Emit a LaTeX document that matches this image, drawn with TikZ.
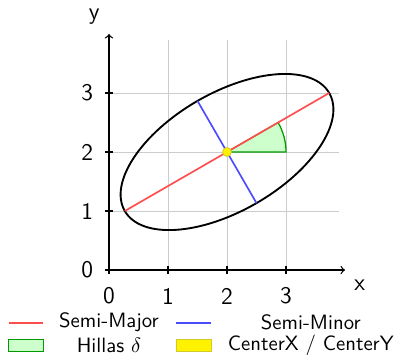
\documentclass[tikz,border=0pt]{standalone}
\usepackage{fontspec}
\usetikzlibrary{calc}
\begin{document}
\begin{tikzpicture}[font=\sffamily,
  gridline/.style={draw=black!20, line width=0.4pt},
  axisline/.style={draw=black, line width=0.6pt, ->},
  ticklab/.style={font=\sffamily\fontsize{11.5}{13}\selectfont},
  leglab/.style={font=\sffamily\fontsize{10}{12}\selectfont},
  majorline/.style={draw=red!70, line width=0.8pt},
  minorline/.style={draw=blue!70, line width=0.8pt},
  hillas/.style={fill=green!20, draw=green!60!black, line width=0.6pt},
  centerdot/.style={circle, fill=yellow, draw=yellow!80!black, line width=0.4pt, inner sep=0pt, minimum size=0.15cm}
]
\useasboundingbox (-1.847,-1.492) rectangle (4.864,4.576);
% grid
\draw[gridline] (0,0) grid (3.9,3.9);
% axes
\coordinate (O) at (0,0);
\coordinate (xend) at (4.0,0);
\coordinate (yend) at (0,4.0);
\draw[axisline] (O) -- (xend);
\draw[axisline] (O) -- (yend);
\foreach \i in {0,1,2,3} {
  \draw[line width=0.6pt] (\i,-0.07) -- (\i,0.07);
  \draw[line width=0.6pt] (-0.07,\i) -- (0.07,\i);
  \node[ticklab] (xt\i) at (\i,-0.44) {\i};
  \node[ticklab] (yt\i) at (-0.37,\i) {\i};
}
\node[ticklab] (xlab) at (4.25,-0.25) {x};
\node[ticklab] (ylab) at (-0.25,4.30) {y};
% ellipse
\coordinate (C) at (2,2);
\draw[line width=0.9pt, rotate around={30:(C)}] (C) ellipse [x radius=2, y radius=1];
% Hillas delta wedge
\draw[hillas] (C) -- ++(1,0) arc[start angle=0, end angle=30, radius=1] -- cycle;
% axes lines
\coordinate (maj1) at ($(C)+(30:2)$);
\coordinate (maj2) at ($(C)+(210:2)$);
\coordinate (min1) at ($(C)+(120:1)$);
\coordinate (min2) at ($(C)+(300:1)$);
\draw[majorline] (maj2) -- (maj1);
\draw[minorline] (min2) -- (min1);
\node[centerdot] (cdot) at (C) {};
% legend
\coordinate (l1a) at (-1.70,-0.89);
\coordinate (l1b) at (-1.11,-0.89);
\draw[majorline, line width=1pt] (l1a) -- (l1b);
\node[leglab] (t1) at (0,-0.89) {Semi-Major};
\coordinate (l2a) at (1.14,-0.89);
\coordinate (l2b) at (1.73,-0.89);
\draw[minorline, line width=1pt] (l2a) -- (l2b);
\node[leglab] (t2) at (3.42,-0.89) {Semi-Minor};
\draw[hillas] (-1.70,-1.38) rectangle (-1.11,-1.18);
\node[leglab] (t3) at (0,-1.28) {Hillas $\delta$};
\draw[fill=yellow, draw=yellow!80!black, line width=0.5pt] (1.14,-1.38) rectangle (1.73,-1.18);
\node[leglab] (t4) at (3.42,-1.28) {CenterX / CenterY};
\end{tikzpicture}
\end{document}
